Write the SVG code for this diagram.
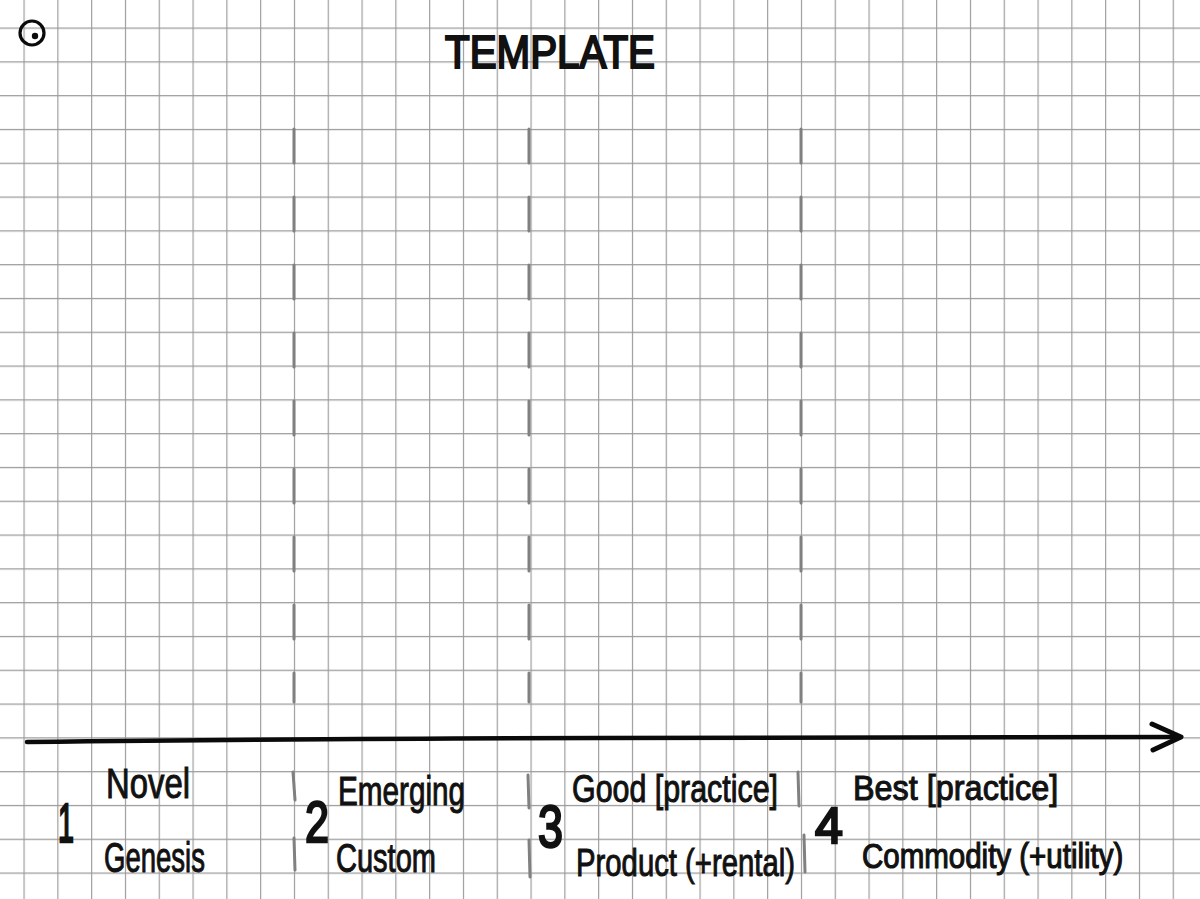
<svg xmlns="http://www.w3.org/2000/svg" width="1200" height="899" viewBox="0 0 1200 899">
<defs>
<pattern id="grid" x="24" y="28" width="33.8" height="33.8" patternUnits="userSpaceOnUse">
<path d="M0.5 0 V33.8 M0 0.5 H33.8" fill="none" stroke="#9a9a9a" stroke-width="1.3"/>
</pattern>
</defs>
<style>
.hand{font-family:"Liberation Sans","DejaVu Sans",sans-serif;fill:#111;stroke:#111;stroke-width:1;}
.digit{stroke-width:2.5;}
.title{stroke-width:2.2;}
.dash{stroke:#808080;stroke-width:3;stroke-linecap:round;fill:none;stroke-dasharray:34 34;}
.tick{stroke:#808080;stroke-width:3;stroke-linecap:round;fill:none;}
.ink{stroke:#0a0a0a;fill:none;stroke-linecap:round;stroke-linejoin:round;}
</style>
<rect width="1200" height="899" fill="#ffffff"/>
<rect x="-10" y="-10" width="1220" height="920" fill="url(#grid)" transform="translate(-0.5,-0.5)"/>

<g id="marker-circle">
<circle cx="32" cy="33" r="12" class="ink" stroke-width="3.2"/>
<circle cx="35" cy="36" r="3.2" fill="#0a0a0a"/>
</g>

<g id="title">
<text class="hand title" x="445" y="68" font-size="46" textLength="210" lengthAdjust="spacingAndGlyphs">TEMPLATE</text>
</g>

<g id="connectors">
<line class="dash" x1="294" y1="129" x2="294" y2="702"/>
<line class="dash" x1="529" y1="129" x2="529" y2="702"/>
<line class="dash" x1="801" y1="129" x2="801" y2="702"/>
<path class="ink" stroke-width="4.5" d="M27 742 Q400 738 600 738 T1180 737"/>
<path class="ink" stroke-width="5" d="M1152 724 L1181 737 L1153 750"/>
</g>

<g id="separators">
<line class="tick" x1="293" y1="772" x2="295" y2="800"/>
<line class="tick" x1="294" y1="838" x2="295" y2="870"/>
<line class="tick" x1="528" y1="775" x2="529" y2="808"/>
<line class="tick" x1="529" y1="840" x2="530" y2="877"/>
<line class="tick" x1="798" y1="772" x2="799" y2="806"/>
<line class="tick" x1="804" y1="835" x2="805" y2="872"/>
</g>

<g id="stage-1">
<text class="hand digit" x="58" y="842" font-size="56" textLength="16" lengthAdjust="spacingAndGlyphs">1</text>
<text class="hand" x="106" y="798" font-size="42" textLength="84" lengthAdjust="spacingAndGlyphs">Novel</text>
<text class="hand" x="104" y="872" font-size="42" textLength="101" lengthAdjust="spacingAndGlyphs">Genesis</text>
</g>

<g id="stage-2">
<text class="hand digit" x="305" y="842" font-size="58" textLength="24" lengthAdjust="spacingAndGlyphs">2</text>
<text class="hand" x="338" y="805" font-size="40" textLength="127" lengthAdjust="spacingAndGlyphs">Emerging</text>
<text class="hand" x="336" y="872" font-size="40" textLength="100" lengthAdjust="spacingAndGlyphs">Custom</text>
</g>

<g id="stage-3">
<text class="hand digit" x="538" y="847" font-size="60" textLength="25" lengthAdjust="spacingAndGlyphs">3</text>
<text class="hand" x="572" y="802" font-size="38" textLength="206" lengthAdjust="spacingAndGlyphs">Good [practice]</text>
<text class="hand" x="576" y="876" font-size="38" textLength="219" lengthAdjust="spacingAndGlyphs">Product (+rental)</text>
</g>

<g id="stage-4">
<text class="hand digit" x="815" y="843" font-size="50">4</text>
<text class="hand" transform="translate(853,800) scale(1,1.11)" x="0" y="0" font-size="32.4">Best [practice]</text>
<text class="hand" transform="translate(862,868) scale(1,1.19)" x="0" y="0" font-size="29.5">Commodity (+utility)</text>
</g>
</svg>
